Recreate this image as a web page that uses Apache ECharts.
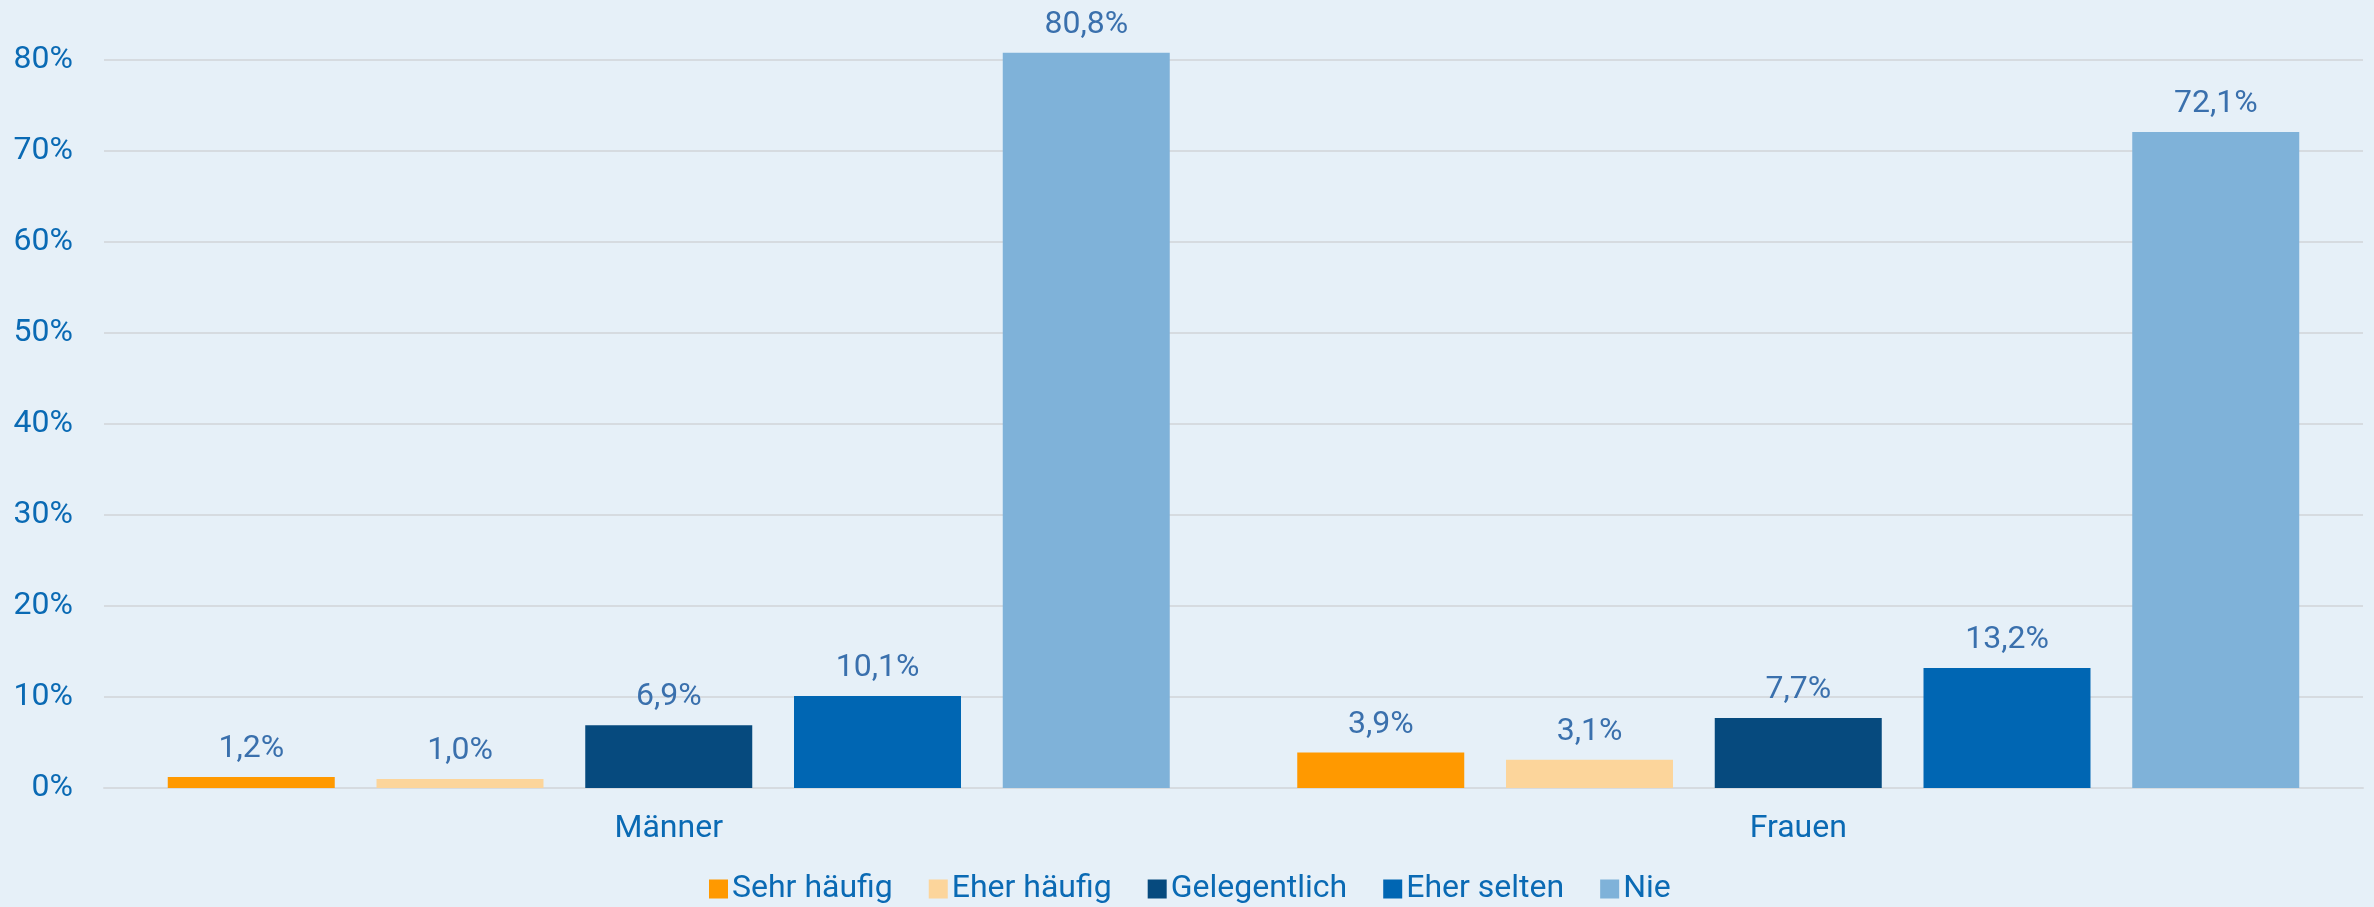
<!DOCTYPE html>
<html>
<head>
<meta charset="utf-8">
<script src="https://cdn.jsdelivr.net/npm/echarts@6/dist/echarts.min.js"></script>
<style>
  html, body { margin: 0; padding: 0; background: #e6f0f8; }
  #chart { width: 2374px; height: 907px; }
</style>
</head>
<body>
<div id="chart"></div>
<script>
const categories = ['Männer', 'Frauen']
const seriesNames = ['Sehr häufig', 'Eher häufig', 'Gelegentlich', 'Eher selten', 'Nie']
const sehrHaeufig = [1.2, 3.9]
const eherHaeufig = [1.0, 3.1]
const gelegentlich = [6.9, 7.7]
const eherSelten = [10.1, 13.2]
const nie = [80.8, 72.1]
const colors = ['#ff9900', '#fcd59b', '#064a7e', '#0066b3', '#7fb2d9']

const values = [sehrHaeufig, eherHaeufig, gelegentlich, eherSelten, nie]
const font = 'Roboto'

const chart = echarts.init(document.getElementById('chart'))

const series = seriesNames.map((name, i) => ({
  name: name,
  type: 'bar',
  data: values[i],
  barWidth: 167,
  barGap: '25%',
  clip: false,
  itemStyle: { color: colors[i] },
  label: {
    show: true,
    position: 'top',
    distance: 12,
    color: '#3a70ad',
    fontFamily: font,
    fontSize: 32,
    formatter: p => p.value.toFixed(1).replace('.', ',') + '%'
  }
}))

chart.setOption({
  backgroundColor: '#e6f0f8',
  animation: false,
  textStyle: { fontFamily: font },
  grid: { left: 104, right: 11, top: 60, bottom: 119 },
  legend: {
    bottom: -3,
    left: 704,
    itemWidth: 19,
    itemHeight: 19,
    itemGap: 36,
    icon: 'rect',
    textStyle: { color: '#0a6ab4', fontSize: 32, fontFamily: font, padding: [0, 0, 0, -1] },
    data: seriesNames
  },
  xAxis: {
    type: 'category',
    data: categories,
    axisTick: { show: false },
    axisLine: { lineStyle: { color: '#d6dbe0', width: 2 } },
    axisLabel: { color: '#0a6ab4', fontSize: 32, fontFamily: font, margin: 25 }
  },
  yAxis: {
    type: 'value',
    min: 0,
    max: 80,
    interval: 10,
    axisLabel: {
      color: '#0a6ab4', fontSize: 32, fontFamily: font, margin: 31,
      formatter: v => v + '%'
    },
    splitLine: { lineStyle: { color: '#d6dbe0', width: 2 } }
  },
  series: series
})
</script>
</body>
</html>
